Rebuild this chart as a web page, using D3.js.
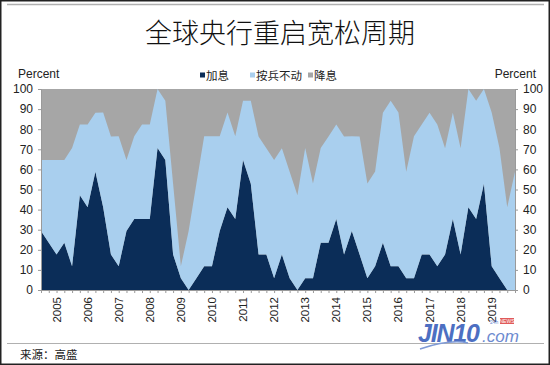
<!DOCTYPE html>
<html><head><meta charset="utf-8">
<script src="https://cdn.jsdelivr.net/npm/d3@7/dist/d3.min.js"></script>
<style>
html,body{margin:0;padding:0;background:#fff;}
svg{display:block;}
</style></head>
<body>
<svg id="c" width="550" height="365"></svg>
<script>
// ---- data (percent of central banks), quarterly, 62 points ----
const years = ["2005","2006","2007","2008","2009","2010","2011","2012","2013","2014","2015","2016","2017","2018","2019"];
const seriesNames = ["加息","按兵不动","降息"];
const hike = [29.4,23.5,17.6,23.5,11.8,47.1,41.2,58.8,41.2,17.6,11.8,29.4,35.3,35.3,35.3,70.6,64.7,17.6,5.9,0,5.9,11.8,11.8,29.4,41.2,35.3,64.7,52.9,17.6,17.6,5.9,17.6,5.9,0,5.9,5.9,23.5,23.5,35.3,17.6,29.4,17.6,5.9,11.8,23.5,11.8,11.8,5.9,5.9,17.6,17.6,11.8,17.6,35.3,17.6,41.2,35.3,52.9,11.8,5.9,0,0];
const hold = [35.3,41.2,47.1,41.2,58.8,35.3,41.2,29.4,47.1,58.8,64.7,35.3,41.2,47.1,47.1,29.4,29.4,35.3,5.9,29.4,47.1,64.7,64.7,47.1,47.1,41.2,29.4,41.2,58.8,52.9,58.8,52.9,52.9,47.1,64.7,47.1,47.1,52.9,47.1,58.8,47.1,58.8,47.1,47.1,64.7,82.4,76.5,52.9,70.6,64.7,70.6,70.6,52.9,52.9,52.9,58.8,58.8,47.1,76.5,64.7,41.2,58.8];
const cut = [35.3,35.3,35.3,35.3,29.4,17.6,17.6,11.8,11.8,23.5,23.5,35.3,23.5,17.6,17.6,0,5.9,47.1,88.2,70.6,47.1,23.5,23.5,23.5,11.8,23.5,5.9,5.9,23.5,29.4,35.3,29.4,41.2,52.9,29.4,47.1,29.4,23.5,17.6,23.5,23.5,23.5,47.1,41.2,11.8,5.9,11.8,41.2,23.5,17.6,11.8,17.6,29.4,11.8,29.4,0,5.9,0,11.8,29.4,58.8,41.2];
const yTicks = [0,10,20,30,40,50,60,70,80,90,100];
const colors = ["#0b2d58","#a9cfee","#a6a6a6"];

const svg = d3.select("#c");
const W = 550, H = 365;
const font = "'Liberation Sans', Arial, sans-serif";
const cjk = "'Noto Sans CJK SC', sans-serif";

// frame
svg.append("rect").attr("x",0.75).attr("y",0.75).attr("width",W-1.5).attr("height",H-1.5)
  .attr("fill","#fff").attr("stroke","#222").attr("stroke-width",1.5);
svg.append("line").attr("x1",7).attr("x2",544).attr("y1",4.5).attr("y2",4.5).attr("stroke","#b0b0b0").attr("stroke-width",1.5);
svg.append("line").attr("x1",7).attr("x2",544).attr("y1",343.5).attr("y2",343.5).attr("stroke","#b0b0b0").attr("stroke-width",1.2);

// title
svg.append("text").attr("x",280).attr("y",43).attr("text-anchor","middle")
  .attr("font-family",cjk).attr("font-weight",300).attr("font-size",27).attr("fill","#111")
  .text("全球央行重启宽松周期");

// scales
const data = hike.map((h,i)=>({i, "加息":h, "按兵不动":hold[i], "降息":cut[i]}));
const x = d3.scaleLinear().domain([0, hike.length-1]).range([41,515]);
const y = d3.scaleLinear().domain([0,100]).range([290,89]);

svg.append("clipPath").attr("id","clip").append("rect").attr("x",41).attr("y",89).attr("width",474).attr("height",201);

const stack = d3.stack().keys(seriesNames)(data);
const area = d3.area().x(d=>x(d.data.i)).y0(d=>y(d[0])).y1(d=>y(Math.min(100,d[1]))).curve(d3.curveLinear);
const g = svg.append("g").attr("clip-path","url(#clip)");
// gray top fill to avoid rounding gaps
g.append("rect").attr("x",41).attr("y",89).attr("width",474).attr("height",201).attr("fill",colors[2]);
g.selectAll("path.s").data(stack.slice(0,2)).join("path").attr("class","s")
  .attr("d",area).attr("fill",(d,k)=>colors[k]);

// axes
const axisColor = "#9a9a9a";
const left = d3.axisLeft(y).tickValues(yTicks).tickSize(3).tickPadding(5);
const right = d3.axisRight(y).tickValues(yTicks).tickSize(3).tickPadding(5);
function styleAxis(sel){
  sel.select(".domain").attr("stroke",axisColor);
  sel.selectAll(".tick line").attr("stroke",axisColor);
  sel.selectAll(".tick text").attr("fill","#222").attr("font-size",12).attr("font-family",font);
}
svg.append("g").attr("transform","translate(41,0)").call(left).call(styleAxis);
svg.append("g").attr("transform","translate(515,0)").call(right).call(styleAxis);

const xb = d3.axisBottom(x).tickValues(d3.range(0,hike.length)).tickSize(3).tickFormat("");
svg.append("g").attr("transform","translate(0,290)").call(xb).call(styleAxis);

// year labels
svg.append("g").selectAll("text").data(years).join("text")
  .attr("transform",(d,k)=>`translate(${x(2+4*k)+4},297) rotate(-90)`)
  .attr("text-anchor","end").attr("font-family",font).attr("font-size",11.5).attr("fill","#222")
  .text(d=>d);

// Percent labels
svg.append("text").attr("x",18).attr("y",78).attr("font-family",font).attr("font-size",12).attr("fill","#222").text("Percent");
svg.append("text").attr("x",536).attr("y",78).attr("text-anchor","end").attr("font-family",font).attr("font-size",12).attr("fill","#222").text("Percent");

// legend
const legX = [200, 250, 308];
const lg = svg.append("g");
seriesNames.forEach((n,k)=>{
  lg.append("rect").attr("x",legX[k]).attr("y",72.5).attr("width",5).attr("height",5).attr("fill",colors[k]);
  lg.append("text").attr("x",legX[k]+6).attr("y",79.5).attr("font-family",cjk).attr("font-size",11.5).attr("fill","#222").text(n);
});

// source
svg.append("text").attr("x",20).attr("y",359).attr("font-family",cjk).attr("font-size",11.5).attr("fill","#222").text("来源：高盛");

// watermark
const wm = svg.append("g");
wm.append("text").attr("x",418).attr("y",342).attr("font-family",font).attr("font-style","italic").attr("font-weight","bold")
  .attr("font-size",25).attr("fill","#4d6fc2").attr("letter-spacing",-1.2).text("JIN10");
wm.append("text").attr("x",482).attr("y",342).attr("font-family",font).attr("font-style","italic")
  .attr("font-size",17).attr("fill","#6d8bd0").text(".com");
wm.append("text").attr("x",490).attr("y",324).attr("font-family",font).attr("font-size",5).attr("fill","#6d8bd0").text("24h");
wm.append("rect").attr("x",500).attr("y",318).attr("width",14).attr("height",6).attr("fill","#e05a5a");
wm.append("text").attr("x",507).attr("y",323.3).attr("text-anchor","middle").attr("font-family",font).attr("font-size",5).attr("fill","#fff").text("NEWS");
wm.append("path").attr("d","M420,349 Q450,339 468,343").attr("fill","none").attr("stroke","#7f9ad6").attr("stroke-width",1.5);
</script>
</body></html>
